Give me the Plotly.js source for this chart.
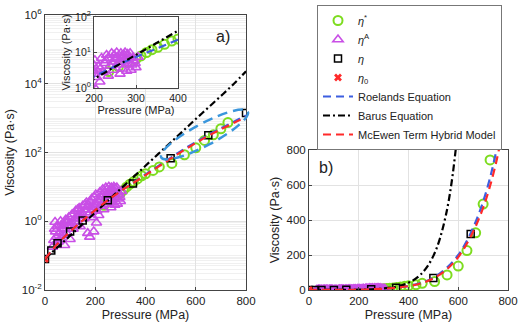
<!DOCTYPE html>
<html>
<head>
<meta charset="utf-8">
<script src="https://cdn.plot.ly/plotly-3.0.1.min.js"></script>
<style>
  html, body { margin: 0; padding: 0; background: #fff; }
  #chart { width: 522px; height: 330px; }
</style>
</head>
<body>
<div id="chart"></div>
<script>
// eta* (green circles)
const etaStarP = [235, 258, 280, 300, 312, 325, 338, 352, 368, 385, 400, 430, 455, 505, 555, 600, 635, 670, 700, 728];
const etaStarV = [2.9, 4.0, 5.2, 6.5, 8, 10, 12, 14, 17, 21, 24, 30, 38, 48, 86, 137, 225, 327, 491, 743];

// eta^A (magenta triangles)
const etaAP = [30, 35, 38, 40, 42, 45, 48, 50, 55, 58, 62, 64, 66, 70, 72, 74, 78, 82, 84, 86, 90, 92, 95, 100, 104, 108,
  112, 118, 122, 124, 127, 130, 132, 136, 138, 140, 145, 148, 150, 155, 158, 160, 163, 165, 170, 172, 175, 178, 180,
  182, 186, 188, 190, 194, 196, 198, 200, 202, 205, 206, 208, 210, 214, 215, 218, 222, 226, 228, 230, 234, 236, 238,
  242, 244, 246, 248, 250, 254, 256, 258, 260, 262, 264, 266, 268, 270, 272, 274, 276, 278, 280, 282, 284, 286, 288,
  290, 292, 295, 298, 300, 305];
const etaAV = [0.18, 0.28, 0.6, 0.95, 0.5, 0.35, 0.25, 0.7, 0.26, 0.45, 1.0, 0.75, 0.3, 0.6, 0.4, 0.8, 0.2, 1.1, 0.9, 0.45, 0.7, 1.0, 1.3, 0.3, 0.9, 1.6,
  0.6, 1.2, 2.0, 1.0, 0.8, 2.2, 1.5, 2.4, 1.2, 0.7, 1.8, 1.4, 2.8, 1.2, 3.0, 2.2, 1.8, 3.5, 0.45, 2.8, 1.6, 0.35, 3.8,
  2.6, 4.5, 2.2, 1.3, 0.5, 5.0, 3.2, 2.5, 6.0, 0.9, 2.0, 3.0, 4.0, 1.5, 3.5, 7.0, 2.8, 5.0, 6.0, 8.5, 2.2, 7.0, 4.2,
  9.5, 5.5, 3.2, 8.5, 6.5, 10, 7.5, 4.5, 5.5, 2.5, 9.5, 8, 3.5, 5.5, 8.5, 10, 6.5, 3.0, 9, 7, 5.0, 9.5, 3.2,
  4.5, 7.0, 6, 5.0, 3.8, 7.5];

// eta (black squares) and eta0 (red cross)
const etaP = [0, 25, 50, 100, 150, 250, 350, 500, 650, 800];
const etaV = [0.08, 0.14, 0.23, 0.5, 1.05, 4.1, 12.5, 68, 320, 1400];
const eta0P = [0];
const eta0V = [0.08];

// model curves
const modelP = [0, 50, 100, 150, 200, 250, 300, 350, 400, 450, 500, 550, 600, 650, 700, 750, 800];
const roelandsV = [0.08, 0.22, 0.5, 1.05, 2.1, 4.1, 7.5, 13, 23, 40, 70, 122, 200, 325, 505, 775, 1200];
const barusV = [0.08, 0.175, 0.38, 0.83, 1.8, 3.95, 8.6, 18.8, 41, 90, 195, 426, 940, 2030, 4400, 9700, 23000];
const mcewenV = [0.08, 0.22, 0.5, 1.05, 2.1, 4.1, 7.4, 12.8, 22, 38, 66, 113, 188, 305, 470, 715, 1080];

const pressureTicks = [0, 200, 400, 600, 800];
const logTickVals = [0.01, 1, 100, 1e4, 1e6];
const logTickText = ['10<sup>-2</sup>', '10<sup>0</sup>', '10<sup>2</sup>', '10<sup>4</sup>', '10<sup>6</sup>'];
const insetPTicks = [200, 300, 400];
const insetTickVals = [1, 10, 100];
const insetTickText = ['10<sup>0</sup>', '10<sup>1</sup>', '10<sup>2</sup>'];

const W = 522, H = 330;
const px = x => x / W;
const py = y => 1 - y / H;

const GREEN = '#7ddc1f', MAGENTA = '#c94fe6', BLUE = '#3d5ee0', RED = '#ff2a2a', BLACK = '#000';
const FONT = 'Liberation Sans, Arial, sans-serif';

const circles = (xa, ya, legend) => ({ name: '<i>η</i><sup>*</sup>', x: etaStarP, y: etaStarV, xaxis: xa, yaxis: ya,
  mode: 'markers', type: 'scatter', showlegend: legend,
  marker: { symbol: 'circle-open', size: 9, color: GREEN, line: { width: 2 } } });
const triangles = (xa, ya, legend) => ({ name: '<i>η</i><sup>A</sup>', x: etaAP, y: etaAV, xaxis: xa, yaxis: ya,
  mode: 'markers', type: 'scatter', showlegend: legend,
  marker: { symbol: 'triangle-up-open', size: 9, color: MAGENTA, line: { width: 1.6 } } });
const squares = (xa, ya, legend) => ({ name: '<i>η</i>', x: etaP, y: etaV, xaxis: xa, yaxis: ya,
  mode: 'markers', type: 'scatter', showlegend: legend,
  marker: { symbol: 'square-open', size: 7, color: BLACK, line: { width: 1.5 } } });
const cross = (xa, ya, legend) => ({ name: '<i>η</i><sub>0</sub>', x: eta0P, y: eta0V, xaxis: xa, yaxis: ya,
  mode: 'markers', type: 'scatter', showlegend: legend,
  marker: { symbol: 'x', size: 7, color: RED } });
const roelands = (xa, ya, legend) => ({ name: 'Roelands Equation', x: modelP, y: roelandsV, xaxis: xa, yaxis: ya,
  mode: 'lines', type: 'scatter', showlegend: legend,
  line: { color: BLUE, width: 2.2, dash: '8px,5px', shape: 'spline' } });
const barus = (xa, ya, legend) => ({ name: 'Barus Equation', x: modelP, y: barusV, xaxis: xa, yaxis: ya,
  mode: 'lines', type: 'scatter', showlegend: legend,
  line: { color: BLACK, width: 2.2, dash: '7px,3px,2px,3px', shape: 'spline' } });
const mcewen = (xa, ya, legend) => ({ name: 'McEwen Term Hybrid Model', x: modelP, y: mcewenV, xaxis: xa, yaxis: ya,
  mode: 'lines', type: 'scatter', showlegend: legend,
  line: { color: RED, width: 2.2, dash: '8px,5px', shape: 'spline' } });

const all = (xa, ya, legend) => [circles, triangles, squares, cross, roelands, barus, mcewen].map(f => f(xa, ya, legend));

const data = [
  ...all('x', 'y', true),
  ...all('x2', 'y2', false),
  // inset only shows the measured points around 200-400 MPa and two of the models
  circles('x3', 'y3', false), triangles('x3', 'y3', false), roelands('x3', 'y3', false), barus('x3', 'y3', false),
];

const axisBase = {
  showline: true, mirror: true, linecolor: '#444', linewidth: 1,
  showgrid: true, gridcolor: '#e2e2e2', zeroline: false,
  ticks: 'inside', ticklen: 3, tickcolor: '#444',
  tickfont: { family: FONT, size: 11.5, color: '#222' },
};
const titleFont = { family: FONT, size: 12.5, color: '#222' };
const insetFont = { family: FONT, size: 10.5, color: '#222' };

// dashed ellipse around the high-pressure points in panel a)
function ellipsePath(cx, cy, a, b, deg) {
  const t = deg * Math.PI / 180, k = 0.5523;
  const pt = (u, v) => {
    const x = cx + u * a * Math.cos(t) - v * b * Math.sin(t);
    const y = cy + u * a * Math.sin(t) + v * b * Math.cos(t);
    return px(x).toFixed(4) + ',' + py(y).toFixed(4);
  };
  return 'M' + pt(1, 0) + ' C' + pt(1, k) + ' ' + pt(k, 1) + ' ' + pt(0, 1) +
    ' C' + pt(-k, 1) + ' ' + pt(-1, k) + ' ' + pt(-1, 0) +
    ' C' + pt(-1, -k) + ' ' + pt(-k, -1) + ' ' + pt(0, -1) +
    ' C' + pt(k, -1) + ' ' + pt(1, -k) + ' ' + pt(1, 0) + ' Z';
}

const layout = {
  width: W, height: H,
  margin: { l: 0, r: 0, t: 0, b: 0 },
  paper_bgcolor: '#fff', plot_bgcolor: '#fff',
  font: { family: FONT, color: '#222' },
  xaxis: { ...axisBase, domain: [px(45), px(246)], range: [0, 800], anchor: 'y',
    tickmode: 'array', tickvals: pressureTicks,
    title: { text: 'Pressure (MPa)', font: titleFont, standoff: 4 } },
  yaxis: { ...axisBase, type: 'log', domain: [py(290), py(15)], range: [-2, 6], anchor: 'x',
    tickmode: 'array', tickvals: logTickVals, ticktext: logTickText,
    minor: { dtick: 'D1', showgrid: true, gridcolor: '#f0f0f0', ticks: '' },
    title: { text: 'Viscosity (Pa·s)', font: titleFont, standoff: 4 } },
  xaxis2: { ...axisBase, domain: [px(309), px(508)], range: [0, 800], anchor: 'y2',
    tickmode: 'array', tickvals: pressureTicks,
    title: { text: 'Pressure (MPa)', font: titleFont, standoff: 4 } },
  yaxis2: { ...axisBase, domain: [py(290), py(150)], range: [0, 800], anchor: 'x2',
    tickmode: 'array', tickvals: pressureTicks,
    title: { text: 'Viscosity (Pa·s)', font: titleFont, standoff: 4 } },
  xaxis3: { ...axisBase, domain: [px(94), px(178)], range: [200, 400], anchor: 'y3',
    tickmode: 'array', tickvals: insetPTicks, tickfont: insetFont,
    title: { text: 'Pressure (MPa)', font: { ...insetFont, size: 11 }, standoff: 2 } },
  yaxis3: { ...axisBase, type: 'log', domain: [py(88), py(17)], range: [0, 2], anchor: 'x3',
    tickmode: 'array', tickvals: insetTickVals, ticktext: insetTickText, tickfont: insetFont,
    title: { text: 'Viscosity (Pa·s)', font: { ...insetFont, size: 11 }, standoff: 2 } },
  legend: {
    x: px(317), y: py(5), xanchor: 'left', yanchor: 'top',
    bgcolor: '#fff', bordercolor: '#777', borderwidth: 1,
    font: { family: FONT, size: 11, color: '#222' },
    tracegroupgap: 0,
  },
  annotations: [
    { text: 'a)', x: px(223), y: py(26), xref: 'paper', yref: 'paper', showarrow: false,
      font: { family: FONT, size: 16, color: '#222' } },
    { text: 'b)', x: px(326), y: py(168), xref: 'paper', yref: 'paper', showarrow: false,
      font: { family: FONT, size: 16, color: '#222' } },
  ],
  shapes: [
    { type: 'path', xref: 'paper', yref: 'paper', path: ellipsePath(204.5, 134.5, 49, 11, -27.9),
      line: { color: '#3a96dc', width: 2.5, dash: '10px,6px' } },
  ],
};

Plotly.newPlot('chart', data, layout, { displayModeBar: false, staticPlot: true });
</script>
</body>
</html>
